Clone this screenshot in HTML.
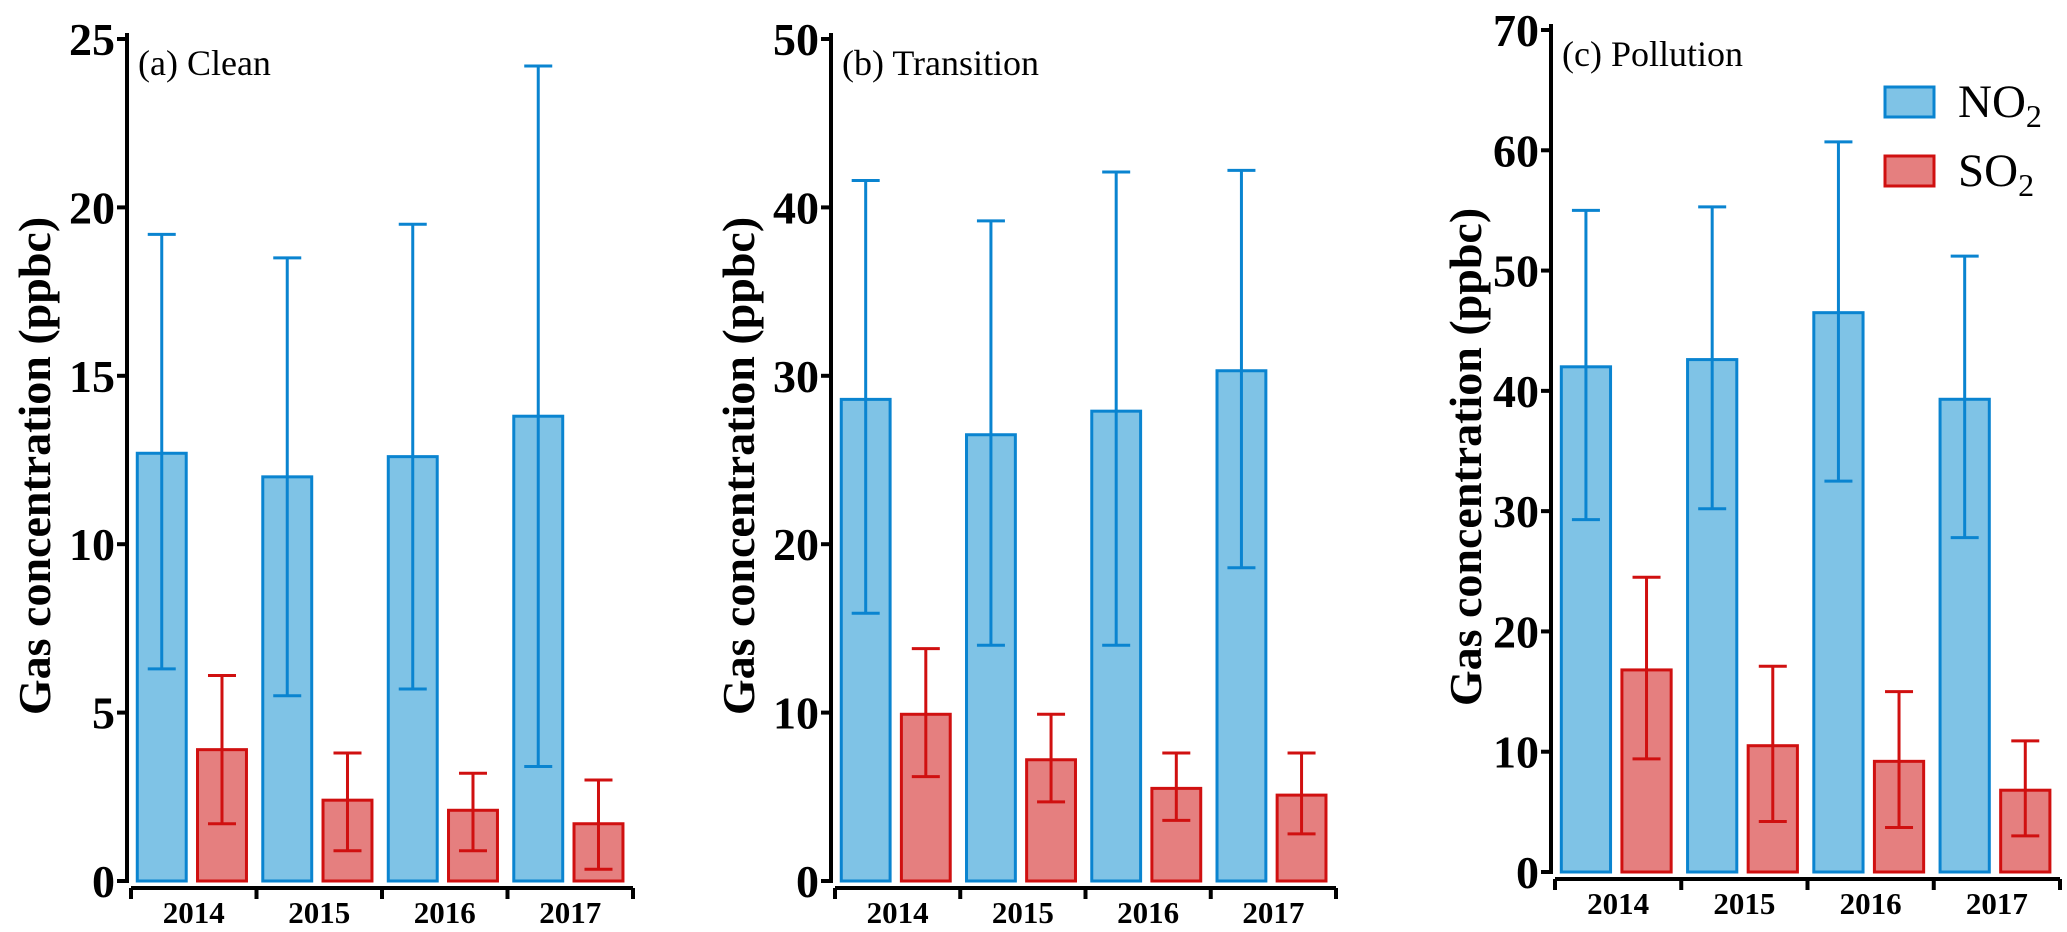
<!DOCTYPE html>
<html><head><meta charset="utf-8"><style>
html,body{margin:0;padding:0;background:#fff;}
svg{display:block;font-family:"Liberation Serif",serif;}
</style></head><body>
<svg id="chart" width="2067" height="932" viewBox="0 0 2067 932" xmlns="http://www.w3.org/2000/svg"></svg>
<script>
const categories = ["2014","2015","2016","2017"];
const no2A = [12.7,12.0,12.6,13.8], no2AUp=[19.2,18.5,19.5,24.2], no2ALo=[6.3,5.5,5.7,3.4];
const so2A = [3.9,2.4,2.1,1.7], so2AUp=[6.1,3.8,3.2,3.0], so2ALo=[1.7,0.9,0.9,0.35];
const no2B = [28.6,26.5,27.9,30.3], no2BUp=[41.6,39.2,42.1,42.2], no2BLo=[15.9,14.0,14.0,18.6];
const so2B = [9.9,7.2,5.5,5.1], so2BUp=[13.8,9.9,7.6,7.6], so2BLo=[6.2,4.7,3.6,2.8];
const no2C = [42.0,42.6,46.5,39.3], no2CUp=[55.0,55.3,60.7,51.2], no2CLo=[29.3,30.2,32.5,27.8];
const so2C = [16.8,10.5,9.2,6.8], so2CUp=[24.5,17.1,15.0,10.9], so2CLo=[9.4,4.2,3.7,3.0];
const ticksA=[0,5,10,15,20,25], ticksB=[0,10,20,30,40,50], ticksC=[0,10,20,30,40,50,60,70];

const NS="http://www.w3.org/2000/svg";
const svg=document.getElementById('chart');
function mk(tag,attrs,parent,text){const e=document.createElementNS(NS,tag);for(const k in attrs)e.setAttribute(k,attrs[k]);if(text!==undefined)e.textContent=text;(parent||svg).appendChild(e);return e;}
const BF="#7fc3e6",BS="#0a84d0",RF="#e57f7f",RS="#d01010";

function panel(id,ax,top,bot,xEnd,max,ticks,label,no2,no2Up,no2Lo,so2,so2Up,so2Lo,titleX){
  const g=mk('g',{});
  
  
  const y=v=>bot-(v/max)*(bot-top);
  const x0=ax+4, groupW=(xEnd-x0)/4;
  const bw=groupW*0.39;
  categories.forEach((c,i)=>{
    const gs=x0+i*groupW;
    const bars=[[no2[i],no2Up[i],no2Lo[i],BF,BS,'no2',0.05],[so2[i],so2Up[i],so2Lo[i],RF,RS,'so2',0.53]];
    bars.forEach(b=>{
      const bx=gs+b[6]*groupW;
      const r=mk('rect',{x:bx,y:y(b[0]),width:bw,height:bot-y(b[0]),fill:b[3],stroke:b[4],'stroke-width':3},g);
      
      
      const cx=bx+bw/2;
      const e=mk('path',{d:`M${cx},${y(b[2])}V${y(b[1])}M${cx-14},${y(b[1])}H${cx+14}M${cx-14},${y(b[2])}H${cx+14}`,stroke:b[4],'stroke-width':3,fill:'none'},g);
      
      
    });
    const t=mk('text',{x:gs+groupW/2,y:bot+42,'text-anchor':'middle','font-size':31,'font-weight':'bold'},g,c);
    
    
  });
  mk('path',{d:`M${ax},${top-6}V${bot+2}`,stroke:'#000','stroke-width':4},g);
  mk('path',{d:`M${ax+4},${bot+7}H${xEnd}`,stroke:'#000','stroke-width':4},g);
  for(let i=0;i<=4;i++){mk('path',{d:`M${x0+i*groupW},${bot+7}V${bot+18}`,stroke:'#000','stroke-width':4},g);}
  ticks.forEach(v=>{
    mk('path',{d:`M${ax-10},${y(v)}H${ax}`,stroke:'#000','stroke-width':4},g);
    const t=mk('text',{x:ax-12,y:y(v)+16,'text-anchor':'end','font-size':46,'font-weight':'bold'},g,String(v));
    
    
  });
  const pl=mk('text',{x:ax+11,y:top+36,'font-size':36},g,label);
  
  
  const cy=(top+bot)/2+6;
  const yt=mk('text',{x:titleX,y:cy,'text-anchor':'middle','font-size':46,'font-weight':'bold',transform:`rotate(-90 ${titleX} ${cy})`},g,'Gas concentration (ppbc)');
  
  
}
panel('a',127,39,881,633,25,ticksA,'(a) Clean',no2A,no2AUp,no2ALo,so2A,so2AUp,so2ALo,50);
panel('b',831,39,881,1336,50,ticksB,'(b) Transition',no2B,no2BUp,no2BLo,so2B,so2BUp,so2BLo,754);
panel('c',1551,30,872,2060,70,ticksC,'(c) Pollution',no2C,no2CUp,no2CLo,so2C,so2CUp,so2CLo,1481);

const lg=mk('g',{});


const l1=mk('rect',{x:1885,y:87,width:49,height:30,fill:BF,stroke:BS,'stroke-width':3},lg);


const t1=mk('text',{x:1958,y:117,'font-size':47},lg);


t1.innerHTML='NO<tspan font-size="32" dy="10">2</tspan>';
const l2=mk('rect',{x:1885,y:156,width:49,height:30,fill:RF,stroke:RS,'stroke-width':3},lg);


const t2=mk('text',{x:1958,y:186,'font-size':47},lg);


t2.innerHTML='SO<tspan font-size="32" dy="10">2</tspan>';
</script>
</body></html>
